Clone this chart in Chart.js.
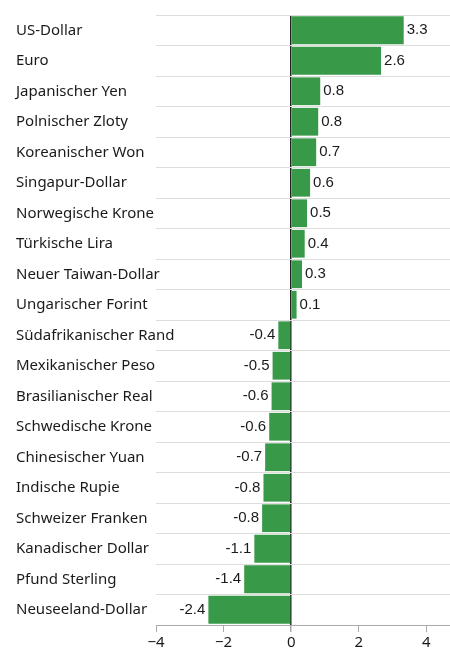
<!DOCTYPE html>
<html>
<head>
<meta charset="utf-8">
<script src="https://cdn.jsdelivr.net/npm/chart.js@4"></script>
<style>
  html, body { margin: 0; padding: 0; background: #fff; }
  #wrap { width: 450px; height: 648px; position: relative; }
</style>
</head>
<body>
<div id="wrap"><canvas id="graf"></canvas></div>
<script>
const currencies = [
  "US-Dollar", "Euro", "Japanischer Yen", "Polnischer Zloty", "Koreanischer Won",
  "Singapur-Dollar", "Norwegische Krone", "Türkische Lira", "Neuer Taiwan-Dollar",
  "Ungarischer Forint", "Südafrikanischer Rand", "Mexikanischer Peso",
  "Brasilianischer Real", "Schwedische Krone", "Chinesischer Yuan", "Indische Rupie",
  "Schweizer Franken", "Kanadischer Dollar", "Pfund Sterling", "Neuseeland-Dollar"
];
const changes = [
  3.33, 2.66, 0.86, 0.8, 0.74, 0.56, 0.47, 0.4, 0.32, 0.16,
  -0.38, -0.55, -0.58, -0.65, -0.77, -0.82, -0.86, -1.09, -1.39, -2.45
];
const valueLabels = [
  "3.3", "2.6", "0.8", "0.8", "0.7", "0.6", "0.5", "0.4", "0.3", "0.1",
  "-0.4", "-0.5", "-0.6", "-0.6", "-0.7", "-0.8", "-0.8", "-1.1", "-1.4", "-2.4"
];
const xTicks = [-4, -2, 0, 2, 4];

const FONT = "'Noto Sans', sans-serif";

// Kategorienamen links und Werte an den Balkenenden
const textLayer = {
  id: "textLayer",
  afterDatasetsDraw(chart) {
    const ctx = chart.ctx;
    const yScale = chart.scales.y;
    const meta = chart.getDatasetMeta(0);
    ctx.save();
    ctx.textBaseline = "middle";

    ctx.font = "15px " + FONT;
    ctx.fillStyle = "#1a1a1a";
    ctx.textAlign = "left";
    currencies.forEach((name, i) => {
      ctx.fillText(name, 16, yScale.getPixelForValue(i));
    });

    ctx.font = "15px 'Liberation Sans', Arial, sans-serif";
    meta.data.forEach((bar, i) => {
      if (changes[i] >= 0) {
        ctx.textAlign = "left";
        ctx.fillText(valueLabels[i], bar.x + 3, bar.y);
      } else {
        ctx.textAlign = "right";
        ctx.fillText(valueLabels[i], bar.x - 3, bar.y);
      }
    });
    ctx.restore();
  }
};

new Chart(document.getElementById("graf"), {
  type: "bar",
  data: {
    labels: currencies,
    datasets: [{
      data: changes,
      backgroundColor: "#389a48",
      borderWidth: 0,
      barPercentage: 0.91,
      categoryPercentage: 1
    }]
  },
  options: {
    indexAxis: "y",
    responsive: true,
    maintainAspectRatio: false,
    animation: false,
    layout: { padding: { left: 16, top: 15, right: 0, bottom: 0 } },
    plugins: { legend: { display: false }, tooltip: { enabled: false } },
    scales: {
      x: {
        min: -4,
        max: 4.7,
        afterBuildTicks: s => { s.ticks = xTicks.map(v => ({ value: v })); },
        afterFit: s => { s.height = 23; },
        border: { color: "#aaa", width: 1 },
        grid: {
          drawOnChartArea: true,
          color: c => (c.tick && c.tick.value === 0 ? "#222" : "rgba(0,0,0,0)"),
          lineWidth: c => (c.tick && c.tick.value === 0 ? 1.5 : 1),
          tickColor: "#aaa",
          tickLength: 7
        },
        ticks: {
          padding: 2,
          color: "#1a1a1a",
          font: { family: FONT, size: 15 },
          callback: v => String(v).replace("-", "\u2212")
        }
      },
      y: {
        afterFit: s => { s.width = 140; },
        border: { display: false },
        grid: { color: "#ddd", lineWidth: 1, drawTicks: false, offset: true },
        ticks: { display: false }
      }
    }
  },
  plugins: [textLayer]
});
</script>
</body>
</html>
